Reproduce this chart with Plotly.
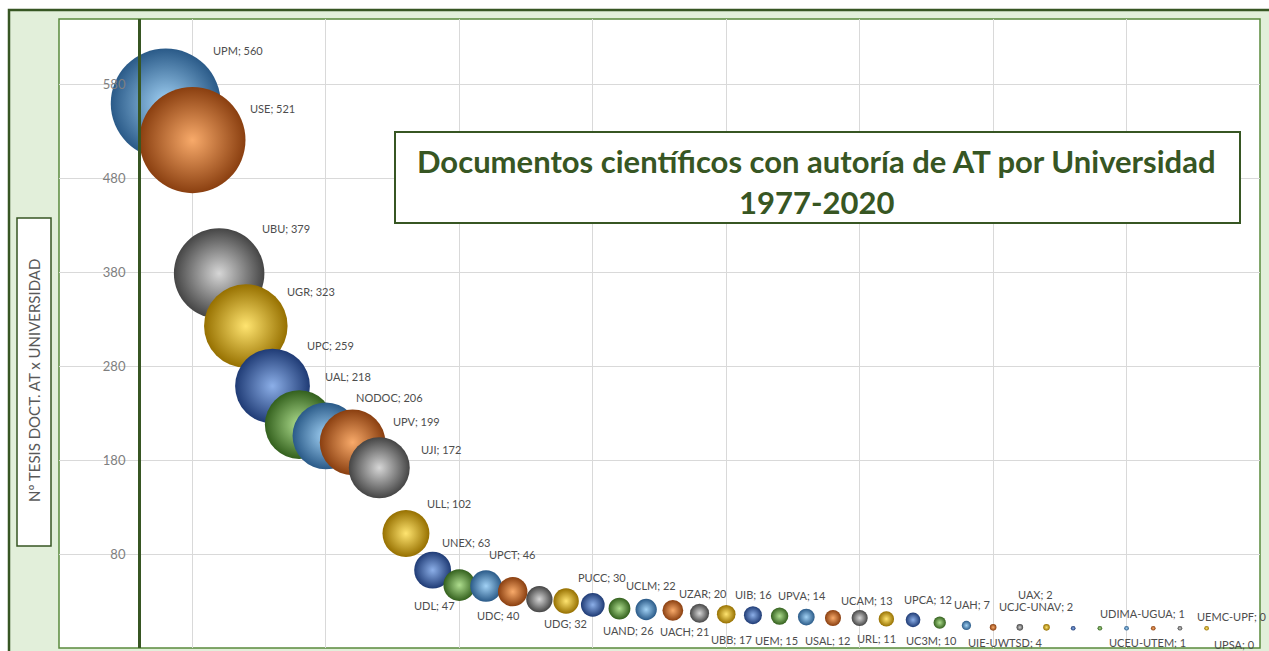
import plotly.graph_objects as go

# ---------------- data ----------------
universidades = ["UPM", "USE", "UBU", "UGR", "UPC", "UAL", "NODOC", "UPV", "UJI", "ULL",
                 "UNEX", "UDL", "UPCT", "UDC", "UDG", "PUCC", "UAND", "UCLM", "UACH", "UZAR",
                 "UBB", "UIB", "UEM", "UPVA", "UCAM", "USAL", "UPCA", "URL", "UC3M", "UAH",
                 "UIE-UWTSD", "UAX", "UCJC-UNAV", "", "", "UDIMA-UGUA", "UCEU-UTEM", "", "", "",
                 "UEMC-UPF", "UPSA"]
documentos = [560, 521, 379, 323, 259, 218, 206, 199, 172, 102,
              63, 47, 46, 40, 32, 30, 26, 22, 21, 20,
              17, 16, 15, 14, 13, 12, 12, 11, 10, 7,
              4, 2, 2, 2, 1, 1, 1, 1, 1, 1,
              0, 0]
posicion = list(range(1, len(documentos) + 1))

y_ticks = [580, 480, 380, 280, 180, 80, -20]

# ---------------- styles ----------------
# label offsets in pixels (dx right, dy down) relative to each bubble
label_offsets = [(72, -53), (80, -32), (67, -45), (65, -34), (58, -41), (49, -48), (64, -38),
                 (64, -21), (62, -18), (43, -30), (33, -28), (-25, 20), (26, -32), (-14, 24),
                 (26, 24), (36, -24), (36, 26), (32, -23), (38, 22), (30, -17), (32, 26),
                 (27, -20), (24, 25), (22, -21), (61, -17), (-5, 23), (68, -18), (-10, 20),
                 (18, 21), (32, -18), (39, 17), (42, -33), (16, -21), (0, 0), (0, 0),
                 (43, -15), (21, 14), (0, 0), (0, 0), (0, 0), (-1, -13), (-26, 15)]

edge_cols = ["#2a5a88", "#8a3f10", "#454545", "#967000", "#1f3b75", "#33601d"]
center_cols = ["#a2d2f5", "#f8aa6a", "#d6d6d6", "#ffe470", "#8cafe8", "#aedd8e"]
n = len(documentos)
m_colors = [edge_cols[i % 6] for i in range(n)]
g_colors = [center_cols[i % 6] for i in range(n)]

DARK_GREEN = "#375623"
LIGHT_GREEN = "#e2efda"
FONT = "Lato, 'Open Sans', Arial, sans-serif"

W, H = 1269, 651
L, R, T, B = 59, 1260, 19, 648  # plot area in pixels
PW, PH = R - L, B - T
X_RANGE = [-3, 42]
Y_RANGE = [-20, 650]


def px(xp):
    return (xp - L) / PW


def py(yp):
    return (B - yp) / PH


max_d = 110
sizeref = 2.0 * max(documentos) / (max_d ** 2)

fig = go.Figure()
fig.add_trace(go.Scatter(
    x=posicion, y=documentos, mode="markers",
    text=universidades,
    marker=dict(size=documentos, sizemode="area", sizeref=sizeref,
                color=m_colors, opacity=1,
                line=dict(width=0),
                gradient=dict(type="radial", color=g_colors)),
    hovertemplate="%{text}: %{y}<extra></extra>",
    showlegend=False,
))

# data labels
annotations = []
for name, xv, yv, (dx, dy) in zip(universidades, posicion, documentos, label_offsets):
    if not name:
        continue
    annotations.append(dict(
        x=xv, y=yv, xref="x", yref="y", text=f"{name}; {yv}", showarrow=False,
        xshift=dx, yshift=-dy, font=dict(family=FONT, size=11, color="#4d4d4d"),
        xanchor="center", yanchor="middle"))

# title lines
annotations.append(dict(x=px(816), y=py(161), xref="paper", yref="paper",
                        text="<b>Documentos científicos con autoría de AT por Universidad</b>",
                        showarrow=False, font=dict(family=FONT, size=31, color=DARK_GREEN),
                        xanchor="center", yanchor="middle"))
annotations.append(dict(x=px(816), y=py(202), xref="paper", yref="paper",
                        text="<b>1977-2020</b>",
                        showarrow=False, font=dict(family=FONT, size=31, color=DARK_GREEN),
                        xanchor="center", yanchor="middle"))
# y axis title
annotations.append(dict(x=px(34), y=py(381), xref="paper", yref="paper",
                        text="Nº TESIS DOCT. AT x UNIVERSIDAD", textangle=-90,
                        showarrow=False, font=dict(family=FONT, size=15, color="#595959"),
                        xanchor="center", yanchor="middle"))

shapes = [
    # outer chart frame
    dict(type="rect", xref="paper", yref="paper", x0=px(9), x1=px(1290), y0=py(670), y1=py(10),
         fillcolor=LIGHT_GREEN, line=dict(color=DARK_GREEN, width=2.5), layer="below"),
    # plot area
    dict(type="rect", xref="paper", yref="paper", x0=0, x1=1, y0=0, y1=1,
         fillcolor="white", line=dict(color="#5a8a3c", width=1.5), layer="below"),
    # y-axis title box
    dict(type="rect", xref="paper", yref="paper", x0=px(17), x1=px(51), y0=py(546), y1=py(218),
         fillcolor="white", line=dict(color=DARK_GREEN, width=1.5), layer="above"),
    # chart title box
    dict(type="rect", xref="paper", yref="paper", x0=px(395), x1=px(1240), y0=py(223), y1=py(132),
         fillcolor="white", line=dict(color=DARK_GREEN, width=2), layer="above"),
]

fig.update_layout(
    width=W, height=H,
    margin=dict(l=L, r=W - R, t=T, b=H - B, pad=0),
    paper_bgcolor="white", plot_bgcolor="white",
    xaxis=dict(range=X_RANGE, showgrid=True, gridcolor="#d9d9d9", gridwidth=1,
               tick0=2, dtick=5, showticklabels=False, zeroline=False, showline=False,
               ticks=""),
    yaxis=dict(range=Y_RANGE, showgrid=True, gridcolor="#d9d9d9", gridwidth=1,
               tickmode="array", tickvals=y_ticks, ticktext=[str(v) for v in y_ticks],
               anchor="free", position=(0 - X_RANGE[0]) / (X_RANGE[1] - X_RANGE[0]),
               showline=True, linecolor=DARK_GREEN, linewidth=3,
               ticks="", ticklabelstandoff=10, zeroline=False,
               tickfont=dict(family=FONT, size=13, color="#7f7f7f")),
    annotations=annotations,
    shapes=shapes,
    font=dict(family=FONT),
)

fig.write_html("out.html",
               config={"displayModeBar": False},
               post_script="document.body.style.margin='0';document.body.style.padding='0';"
                           "document.body.style.overflow='hidden';")
